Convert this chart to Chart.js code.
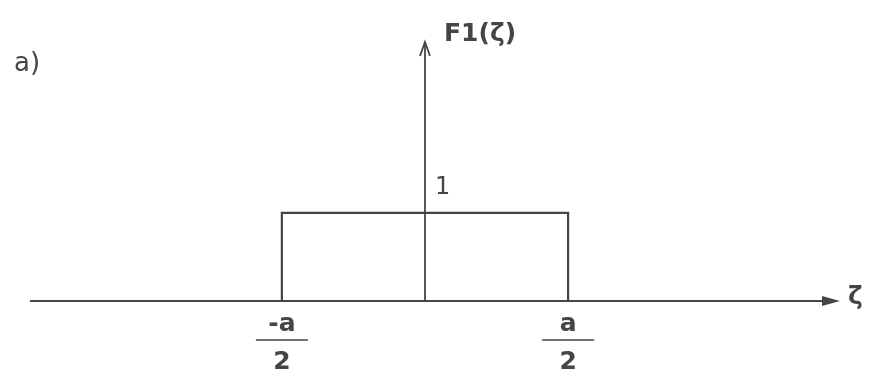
<!DOCTYPE html>
<html>
<head>
<meta charset="utf-8">
<script src="https://cdn.jsdelivr.net/npm/chart.js@4/dist/chart.umd.min.js"></script>
<style>
  html, body { margin: 0; padding: 0; background: #fff; }
  #wrap { width: 870px; height: 374px; position: relative; }
</style>
</head>
<body>
<div id="wrap"><canvas id="myChart"></canvas></div>
<script>
// rectangular pulse F1(zeta), a = 1 so the edges sit at -a/2 and a/2
const pulseX = [-0.5, -0.5, 0.5, 0.5];
const pulseY = [0, 1, 1, 0];
const edgeTicks = [-0.5, 0.5];
const edgeNumerators = ['-a', 'a'];
const edgeDenominator = '2';
const heightTick = 1;
const heightLabel = '1';
const yAxisTitle = 'F1(ζ)';
const xAxisTitle = 'ζ';
const panelLabel = 'a)';

const ink = '#454545';
const font = 'bold 25px "DejaVu Sans", sans-serif';

const axesPlugin = {
  id: 'axesPlugin',
  afterDatasetsDraw(chart) {
    const {ctx, chartArea, scales: {x, y}} = chart;
    const x0 = x.getPixelForValue(0);
    const y0 = y.getPixelForValue(0);
    ctx.save();
    ctx.strokeStyle = ink;
    ctx.fillStyle = ink;
    ctx.lineWidth = 1.8;

    // horizontal axis
    ctx.beginPath();
    ctx.moveTo(chartArea.left, y0);
    ctx.lineTo(chartArea.right - 12, y0);
    ctx.stroke();
    ctx.beginPath();
    ctx.moveTo(chartArea.right, y0);
    ctx.lineTo(chartArea.right - 18, y0 - 5);
    ctx.lineTo(chartArea.right - 18, y0 + 5);
    ctx.closePath();
    ctx.fill();

    // vertical axis
    ctx.beginPath();
    ctx.moveTo(x0, y0);
    ctx.lineTo(x0, chartArea.top);
    ctx.stroke();
    ctx.beginPath();
    ctx.moveTo(x0 - 5, chartArea.top + 14);
    ctx.lineTo(x0, chartArea.top);
    ctx.lineTo(x0 + 5, chartArea.top + 14);
    ctx.stroke();

    ctx.font = font;
    ctx.textBaseline = 'middle';

    // axis titles
    ctx.textAlign = 'left';
    ctx.fillText(yAxisTitle, x0 + 19, chartArea.top - 8);
    ctx.fillText(xAxisTitle, chartArea.right + 8, y0 - 4);

    // height mark
    ctx.font = '24px "DejaVu Sans", sans-serif';
    ctx.fillText(heightLabel, x0 + 10, y.getPixelForValue(heightTick) - 25);

    // edge labels as fractions
    ctx.font = font;
    ctx.textAlign = 'center';
    edgeTicks.forEach((v, i) => {
      const px = x.getPixelForValue(v);
      ctx.fillText(edgeNumerators[i], px, y0 + 23);
      ctx.beginPath();
      ctx.lineWidth = 1.3;
      ctx.moveTo(px - 26, y0 + 39);
      ctx.lineTo(px + 26, y0 + 39);
      ctx.stroke();
      ctx.fillText(edgeDenominator, px, y0 + 61);
    });

    // panel label
    ctx.font = '26px "DejaVu Sans", sans-serif';
    ctx.textAlign = 'left';
    ctx.fillText(panelLabel, 14, 64);
    ctx.restore();
  }
};

const data = {
  datasets: [{
    data: pulseX.map((v, i) => ({x: v, y: pulseY[i]})),
    borderColor: ink,
    borderWidth: 2.2,
    pointRadius: 0,
    fill: false,
    tension: 0
  }]
};

const config = {
  type: 'line',
  data,
  options: {
    responsive: true,
    maintainAspectRatio: false,
    animation: false,
    layout: {padding: {left: 30, right: 30, top: 42, bottom: 73}},
    plugins: {legend: {display: false}, tooltip: {enabled: false}},
    scales: {
      x: {type: 'linear', min: -1.38, max: 1.45, display: false},
      y: {type: 'linear', min: 0, max: 2.94, display: false}
    }
  },
  plugins: [axesPlugin]
};

new Chart(document.getElementById('myChart'), config);
</script>
</body>
</html>
